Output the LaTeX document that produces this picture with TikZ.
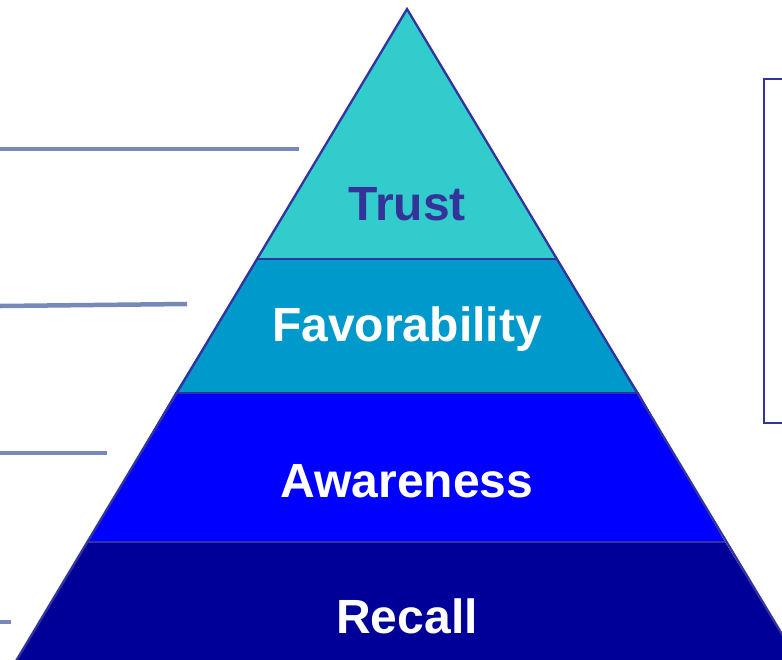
\documentclass[tikz,border=0pt]{standalone}
\usepackage{fontspec}
\setmainfont{Liberation Sans}
\begin{document}
\begin{tikzpicture}[x=1pt,y=-1pt,
  edge/.style={draw=edgeblue, line width=2.3pt, line join=miter},
  leader/.style={draw=leadblue, line width=4.5pt},
  label/.style={font=\fontsize{48}{52}\selectfont\bfseries, anchor=base, inner sep=0pt},
]
\definecolor{edgeblue}{HTML}{3333A0}
\definecolor{leadblue}{HTML}{7788BB}
\definecolor{trustc}{HTML}{33CCCC}
\definecolor{favc}{HTML}{0099CC}
\definecolor{awarec}{HTML}{0000FF}
\definecolor{recallc}{HTML}{000099}
\definecolor{navytext}{HTML}{333399}
\useasboundingbox (0,0) rectangle (782,659);
\begin{scope}
\clip (0,0) rectangle (782,659);
% pyramid corners
\coordinate (apex) at (407,9);
\coordinate (l1) at (257,259); \coordinate (r1) at (556,259);
\coordinate (l2) at (175,393); \coordinate (r2) at (639,393);
\coordinate (l3) at (88,542);  \coordinate (r3) at (725,542);
\coordinate (l4) at (16,661);  \coordinate (r4) at (798,661);
% bands
\fill[recallc] (l3) -- (r3) -- (r4) -- (l4) -- cycle;
\fill[awarec] (l2) -- (r2) -- (r3) -- (l3) -- cycle;
\fill[favc] (l1) -- (r1) -- (r2) -- (l2) -- cycle;
\fill[trustc] (apex) -- (r1) -- (l1) -- cycle;
% outlines
\draw[edge] (l4) -- (apex) -- (r4);
\draw[edge] (l1) -- (r1);
\draw[edge] (l2) -- (r2);
\draw[edge] (l3) -- (r3);
% side box
\draw[draw=edgeblue, line width=2.3pt] (800,79) -- (764,79) -- (764,423) -- (800,423);
% leader lines
\coordinate (a0) at (0,149);   \coordinate (a1) at (299,149);
\coordinate (b0) at (0,306);   \coordinate (b1) at (187,304);
\coordinate (c0) at (0,453);   \coordinate (c1) at (107,453);
\coordinate (d0) at (0,622);   \coordinate (d1) at (11,622);
\draw[leader] (a0) -- (a1);
\draw[leader] (b0) -- (b1);
\draw[leader] (c0) -- (c1);
\draw[leader] (d0) -- (d1);
\end{scope}
% band labels
\node[label, text=navytext] (trust) at (407,220) {Trust};
\node[label, text=white] (fav) at (407,341) {Favorability};
\node[label, text=white] (aware) at (407,497) {Awareness};
\node[label, text=white] (recall) at (407,633) {Recall};
\end{tikzpicture}
\end{document}
